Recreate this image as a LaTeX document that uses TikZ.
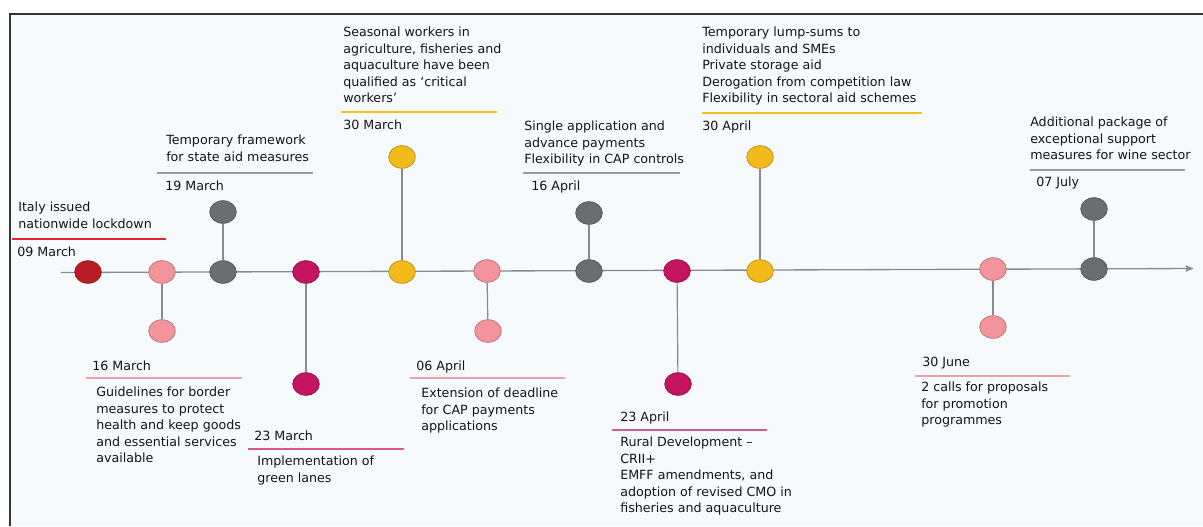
\documentclass[tikz,border=0pt]{standalone}
\usepackage{fontspec}
\setmainfont{DejaVu Sans}
\usetikzlibrary{arrows, shapes.geometric}

\definecolor{lockred}{HTML}{B91C24}
\definecolor{evpink}{HTML}{F3939B}
\definecolor{evgray}{HTML}{6C6D70}
\definecolor{evmagenta}{HTML}{C4135F}
\definecolor{evyellow}{HTML}{F2BB1A}
\definecolor{axisgray}{HTML}{8A8A8A}
\definecolor{paper}{HTML}{F7FAFD}
\definecolor{redrule}{HTML}{E0262E}
\definecolor{grayrule}{HTML}{9A9A9A}
\definecolor{yellowrule}{HTML}{F4C21E}
\definecolor{pinkrule}{HTML}{EFA0A8}
\definecolor{magrule}{HTML}{D75A8C}

\tikzset{
  event/.style={ellipse, draw=#1!75!black, fill=#1, line width=0.5pt,
    minimum width=20pt, minimum height=17pt, inner sep=0pt},
  txt/.style={anchor=north west, inner sep=0pt, align=left, text=black!92,
    font=\fontsize{9.5}{12.3}\selectfont},
  datrule/.style={line width=1pt, draw=#1},
  stem/.style={draw=axisgray, line width=0.9pt},
}

\begin{document}
\begin{tikzpicture}[x=0.75pt, y=-0.75pt, >=stealth']
  \path[use as bounding box, fill=white] (0,0) rectangle (1203,526);
  \fill[paper] (10,14) rectangle (1203,526);
  \draw[black!80, line width=1.5pt] (10,526) -- (10,14) -- (1203,14);

  % time axis
  \coordinate (start) at (61,272.5);
  \coordinate (end) at (1193,268.5);
  \draw[->, axisgray, line width=1pt, arrows={-stealth'[scale=1.4]}] (start) -- (end);

  % events on the axis and their partners
  \node (m09) [event=lockred] at (88,272) {};
  \node (m16) [event=evpink] at (162,272) {};
  \node (m16b) [event=evpink] at (162,331) {};
  \node (m19) [event=evgray] at (223,272) {};
  \node (m19t) [event=evgray] at (223,212) {};
  \node (m23) [event=evmagenta] at (306,272) {};
  \node (m23b) [event=evmagenta] at (306,384) {};
  \node (m30) [event=evyellow] at (402,272) {};
  \node (m30t) [event=evyellow] at (402,157) {};
  \node (a06) [event=evpink] at (487,271) {};
  \node (a06b) [event=evpink] at (488,331) {};
  \node (a16) [event=evgray] at (589,271) {};
  \node (a16t) [event=evgray] at (589,213) {};
  \node (a23) [event=evmagenta] at (677,271) {};
  \node (a23b) [event=evmagenta] at (678,384) {};
  \node (a30) [event=evyellow] at (760,271) {};
  \node (a30t) [event=evyellow] at (760,157) {};
  \node (j30) [event=evpink] at (993,269) {};
  \node (j30b) [event=evpink] at (993,327) {};
  \node (j07) [event=evgray] at (1094,269) {};
  \node (j07t) [event=evgray] at (1094,209) {};

  \path[stem] (m16) edge (m16b)
              (m19) edge (m19t)
              (m23) edge (m23b)
              (m30) edge (m30t)
              (a06) edge (a06b)
              (a16) edge (a16t)
              (a23) edge (a23b)
              (a30) edge (a30t)
              (j30) edge (j30b)
              (j07) edge (j07t);

  % labels above the axis
  \node (t09) [txt] at (18,202) {Italy issued\\nationwide lockdown};
  \draw[datrule=redrule] (12,239) -- (166,239);
  \node (d09) [txt] at (17,247) {09 March};

  \node (t19) [txt] at (166,135) {Temporary framework\\for state aid measures};
  \draw[datrule=grayrule] (157,173) -- (313,173);
  \node (d19) [txt] at (165,181) {19 March};

  \node (t30m) [txt] at (343,27) {Seasonal workers in\\agriculture, fisheries and\\aquaculture have been\\qualified as `critical\\workers'};
  \draw[datrule=yellowrule] (341,112) -- (497,112);
  \node (d30m) [txt] at (343,120) {30 March};

  \node (t16a) [txt] at (524,121) {Single application and\\advance payments\\Flexibility in CAP controls};
  \draw[datrule=grayrule] (523,173) -- (680,173);
  \node (d16a) [txt] at (531,181) {16 April};

  \node (t30a) [txt] at (702,27) {Temporary lump-sums to\\individuals and SMEs\\Private storage aid\\Derogation from competition law\\Flexibility in sectoral aid schemes};
  \draw[datrule=yellowrule] (702,113) -- (922,113);
  \node (d30a) [txt] at (702,121) {30 April};

  \node (t07) [txt] at (1030,117) {Additional package of\\exceptional support\\measures for wine sector};
  \draw[datrule=grayrule] (1030,170) -- (1185,170);
  \node (d07) [txt] at (1036,177) {07 July};

  % labels below the axis
  \node (d16) [txt] at (92,361) {16 March};
  \draw[datrule=pinkrule] (86,378) -- (242,378);
  \node (t16) [txt] at (96,387) {Guidelines for border\\measures to protect\\health and keep goods\\and essential services\\available};

  \node (d23) [txt] at (254,431) {23 March};
  \draw[datrule=magrule] (248,449) -- (404,449);
  \node (t23) [txt] at (257,456) {Implementation of\\green lanes};

  \node (d06) [txt] at (416,361) {06 April};
  \draw[datrule=pinkrule] (410,378) -- (565,378);
  \node (t06) [txt] at (421,388) {Extension of deadline\\for CAP payments\\applications};

  \node (d23a) [txt] at (620,412) {23 April};
  \draw[datrule=magrule] (612,430) -- (767,430);
  \node (t23a) [txt] at (620,437) {Rural Development --\\CRII+\\EMFF amendments, and\\adoption of revised CMO in\\fisheries and aquaculture};

  \node (d30j) [txt] at (922,357) {30 June};
  \draw[datrule=pinkrule] (915,376) -- (1070,376);
  \node (t30j) [txt] at (921,382) {2 calls for proposals\\for promotion\\programmes};
\end{tikzpicture}
\end{document}
